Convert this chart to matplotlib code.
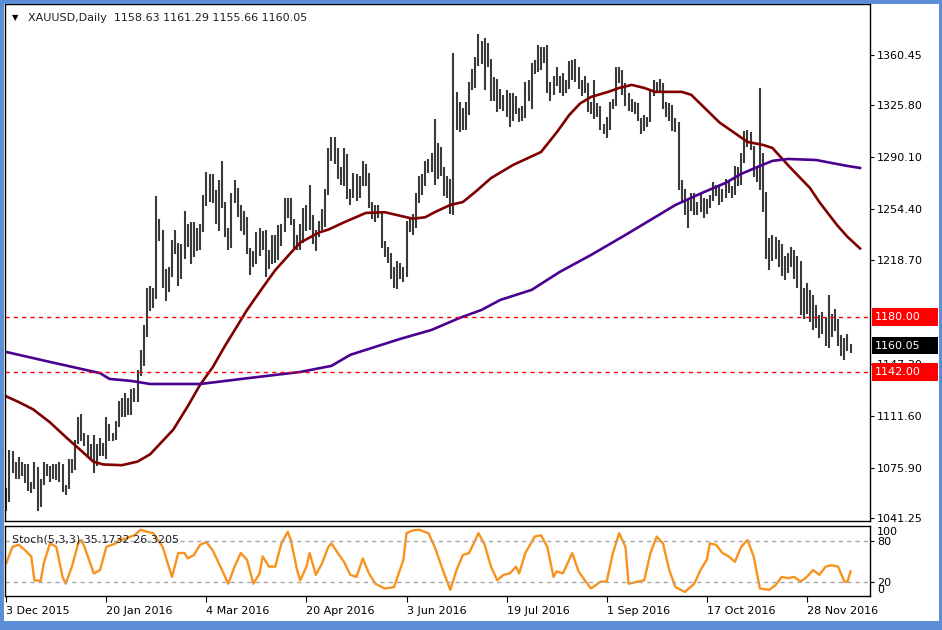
import matplotlib
matplotlib.use("Agg")
import matplotlib.pyplot as plt
from matplotlib.patches import Rectangle
from matplotlib.transforms import blended_transform_factory

# daily XAUUSD bars, 3 Dec 2015 onwards (high / low)
highs = [
    1062, 1088, 1087, 1080, 1083, 1080, 1078, 1078, 1066, 1080,
    1076, 1068, 1080, 1078, 1077, 1078, 1078, 1080, 1078, 1064,
    1082, 1082, 1095, 1111, 1113, 1100, 1098, 1092, 1098, 1092,
    1096, 1093, 1111, 1106, 1100, 1108, 1122, 1124, 1127, 1124,
    1130, 1131, 1143, 1157, 1174, 1200, 1201, 1200, 1263, 1247,
    1240, 1213, 1214, 1233, 1240, 1231, 1230, 1253, 1244, 1245,
    1245, 1241, 1244, 1264, 1280, 1278, 1278, 1267, 1274, 1287,
    1259, 1241, 1265, 1274, 1269, 1257, 1253, 1249, 1227, 1225,
    1238, 1241, 1239, 1240, 1226, 1236, 1236, 1243, 1244, 1262,
    1262, 1262, 1247, 1236, 1244, 1255, 1257, 1271, 1250, 1240,
    1246, 1254, 1268, 1296, 1304, 1304, 1296, 1283, 1296, 1292,
    1268, 1279, 1278, 1277, 1287, 1285, 1279, 1259, 1257, 1257,
    1252, 1232, 1228, 1224, 1214, 1218, 1217, 1214, 1246, 1249,
    1251, 1265, 1277, 1278, 1287, 1289, 1293, 1316, 1300, 1297,
    1283, 1277, 1275, 1362, 1335, 1328, 1324, 1328, 1342, 1351,
    1359, 1375, 1370, 1372, 1369, 1358, 1345, 1344, 1337, 1333,
    1336, 1334, 1334, 1332, 1324, 1325, 1342, 1343, 1355, 1357,
    1367, 1366, 1366, 1367, 1342, 1346, 1352, 1346, 1348, 1343,
    1356, 1357, 1358, 1352, 1343, 1346, 1341, 1328, 1343, 1327,
    1325, 1313, 1318, 1328, 1330, 1352, 1352, 1350, 1341, 1334,
    1330, 1328, 1327, 1317, 1319, 1318, 1336, 1343, 1342, 1344,
    1341, 1328, 1327, 1326, 1317, 1314, 1274, 1268, 1262, 1265,
    1265, 1259, 1265, 1262, 1261, 1264, 1273, 1271, 1270, 1268,
    1275, 1274, 1270, 1284, 1283, 1293, 1308, 1309, 1307, 1298,
    1284, 1338, 1293, 1266, 1234, 1236, 1235, 1233, 1230, 1222,
    1224, 1228, 1226, 1222, 1218, 1200, 1203, 1198, 1195, 1188,
    1181, 1183, 1180, 1195, 1182, 1185, 1178, 1167, 1165, 1168,
    1161,
]
lows = [
    1046, 1052, 1072, 1068, 1068, 1070, 1065, 1060, 1058, 1061,
    1046, 1049, 1064, 1070, 1066, 1068, 1067, 1066, 1059, 1057,
    1061, 1072, 1074, 1092, 1094, 1091, 1083, 1082, 1072, 1077,
    1084, 1084, 1082, 1094, 1094, 1095, 1104, 1111, 1111, 1112,
    1112, 1121, 1121, 1139, 1146, 1166, 1184, 1186, 1192, 1232,
    1200, 1191, 1197, 1207, 1223, 1201, 1206, 1220, 1228, 1216,
    1221, 1225, 1226, 1238, 1256, 1259, 1258, 1244, 1239, 1255,
    1235, 1226, 1227, 1258, 1249, 1239, 1236, 1223, 1209, 1214,
    1216, 1222, 1226, 1207, 1213, 1216, 1217, 1219, 1229, 1238,
    1248, 1243, 1227, 1226, 1226, 1231, 1239, 1240, 1230, 1225,
    1235, 1240, 1242, 1264, 1287, 1285, 1275, 1271, 1270, 1261,
    1257, 1262, 1260, 1262, 1270, 1270, 1255, 1247, 1245, 1248,
    1227, 1221, 1217, 1206, 1200, 1199, 1206, 1204, 1207, 1238,
    1236, 1241, 1258, 1264, 1270, 1279, 1280, 1271, 1275, 1277,
    1263, 1262, 1251, 1250, 1309, 1307, 1309, 1309, 1319, 1336,
    1338, 1353, 1354, 1336, 1352, 1329, 1329, 1321, 1323, 1322,
    1318, 1311, 1315, 1320, 1314, 1315, 1317, 1329, 1323, 1347,
    1349, 1350, 1355, 1334, 1329, 1333, 1339, 1334, 1332, 1334,
    1337, 1343, 1342, 1337, 1332, 1334, 1321, 1320, 1316, 1318,
    1309, 1306, 1303, 1309, 1323, 1325, 1341, 1333, 1325, 1322,
    1321, 1320, 1315, 1306, 1308, 1311, 1314, 1332, 1335, 1334,
    1323, 1318, 1315, 1308, 1307, 1267, 1260, 1250, 1241, 1253,
    1250, 1250, 1252, 1248, 1251, 1255, 1260, 1263, 1257, 1259,
    1262, 1265, 1262, 1264, 1270, 1271, 1286, 1297, 1295, 1276,
    1273, 1267, 1252, 1220, 1212, 1218, 1220, 1214, 1208, 1205,
    1210, 1214, 1206, 1200, 1181, 1178, 1182, 1176, 1171, 1172,
    1165, 1168, 1160, 1158, 1166, 1170, 1160, 1153, 1150, 1156,
    1155,
]

# moving averages (bar index, price)
ma_red_bars = [0, 4.5, 8.6, 14, 19.5, 23.7, 27.8, 31, 37, 42, 46, 53.4, 58, 62, 66, 70, 74,
               77, 82, 86, 91, 94, 100, 103, 108, 115, 121, 125, 130, 134, 137, 142, 146,
               150, 155, 162, 167, 171, 176, 180, 183.5, 187, 192.5, 196, 200, 204, 207.5,
               212, 216, 219, 224, 228, 232, 237, 242, 245, 250.6, 257, 260, 265.7, 269, 273]
ma_red_vals = [1125, 1120.5, 1116, 1107, 1096, 1088, 1080, 1078, 1077.5, 1080, 1085, 1102, 1118,
               1133, 1145, 1160, 1174, 1184.6, 1200, 1212, 1224, 1231, 1238, 1240, 1245, 1251.5,
               1252, 1250, 1247.5, 1248.5, 1252, 1257, 1259, 1266, 1275.5, 1284.5, 1289.5,
               1293.5, 1307, 1319, 1327, 1331.5, 1335, 1337.7, 1339.8, 1337.7, 1335, 1335, 1335,
               1333, 1322.5, 1314, 1308, 1300.5, 1298.4, 1296.3, 1283, 1268.7, 1259, 1243,
               1235, 1227]

ma_purple_bars = [0, 14, 30, 33, 40, 46, 62, 78, 94, 104, 110, 120, 126, 136, 145, 152, 158,
                  168, 177, 187, 198, 214, 222.5, 230, 235, 241, 245, 250, 259, 264, 269, 273]
ma_purple_vals = [1155.6, 1148.7, 1141, 1137, 1135.6, 1133.5, 1133.5, 1137.7, 1141.8, 1146,
                  1153.6, 1160.5, 1164.6, 1170.8, 1179.1, 1184.6, 1191.5, 1198.4, 1210.8,
                  1222.5, 1236.3, 1257, 1265.3, 1272.2, 1278.4, 1283.9, 1287.4, 1288.7, 1288,
                  1285.9, 1283.9, 1282.5]

# Stochastic(5,3,3) main line
stoch_bars = [0, 2, 4, 6, 8, 9, 11, 12, 14, 16, 18, 19, 21, 23, 24, 25, 28, 30, 32, 35, 36, 38,
              41, 43, 45, 47, 50, 53, 55, 57, 58, 60, 62, 64, 66, 69, 71, 73, 75, 77, 79, 81,
              82, 84, 86, 88, 90, 91, 93, 94, 96, 97, 99, 101, 103, 104, 106, 108, 110, 112,
              114, 116, 118, 121, 124, 127, 128, 130, 132, 135, 137, 140, 142, 144, 146, 148,
              150, 151, 153, 155, 157, 159, 161, 163, 164, 166, 169, 171, 173, 175, 176, 178,
              181, 183, 185, 187, 190, 192, 194, 196, 198, 199, 202, 204, 206, 208, 210, 212,
              214, 217, 220, 222, 224, 225, 227, 229, 231, 233, 235, 237, 239, 241, 244, 246,
              248, 250, 252, 254, 256, 258, 260, 262, 264, 266, 268, 269, 270]
stoch_vals = [47, 71, 74, 66, 57, 22, 21, 47, 76, 71, 27, 17, 42, 76, 81, 71, 32, 37, 71, 76, 81,
              83, 88, 96, 93, 91, 71, 27, 62, 62, 54, 59, 74, 78, 66, 37, 17, 42, 62, 52, 17,
              32, 57, 42, 42, 76, 93, 81, 37, 22, 42, 62, 30, 47, 71, 76, 62, 49, 30, 27, 54,
              32, 17, 10, 12, 52, 91, 95, 96, 91, 71, 32, 8, 37, 59, 62, 81, 91, 74, 42, 22,
              30, 32, 42, 32, 62, 86, 88, 71, 27, 35, 32, 62, 35, 22, 10, 20, 20, 62, 91, 71,
              17, 20, 22, 62, 86, 76, 37, 12, 5, 17, 37, 52, 76, 74, 62, 57, 49, 71, 81, 57,
              10, 8, 15, 27, 25, 27, 20, 27, 37, 30, 42, 44, 42, 20, 20, 35]

date_ticks = [0, 32, 64, 96, 128, 160, 192, 224, 256]
date_labels = ["3 Dec 2015", "20 Jan 2016", "4 Mar 2016", "20 Apr 2016", "3 Jun 2016",
               "19 Jul 2016", "1 Sep 2016", "17 Oct 2016", "28 Nov 2016"]
# 1183.00 sits fully under the 1180.00 box, so it is left out
price_ticks = [1041.25, 1075.90, 1111.60, 1147.30, 1218.70, 1254.40, 1290.10,
               1325.80, 1360.45]
price_labels = ["%.2f" % p for p in price_ticks]
levels = [1180.00, 1142.00]
last_price = 1160.05

W, H = 942, 630
fig = plt.figure(figsize=(W / 100, H / 100), dpi=100)
fig.patch.set_facecolor("white")


def box(x0, y0, x1, y1):
    return [x0 / W, 1 - y1 / H, (x1 - x0) / W, (y1 - y0) / H]


ax = fig.add_axes(box(5, 4, 870, 521))
ax2 = fig.add_axes(box(5, 526, 870, 596))

bar_idx = list(range(len(highs)))
ax.vlines(bar_idx, lows, highs, color="#3a3a3a", lw=1.5)
ax.plot(ma_red_bars, ma_red_vals, color="#800000", lw=1.9)
ax.plot(ma_purple_bars, ma_purple_vals, color="#4B0090", lw=1.9)
for lv in levels:
    ax.axhline(lv, color="#FF0000", lw=1, ls=(0, (3, 3)))

ax.set_xlim(-0.4, 276.2)
ax.set_ylim(1039, 1395.6)
ax.set_xticks([])
ax.yaxis.tick_right()
ax.set_yticks(price_ticks)
ax.set_yticklabels(price_labels, fontsize=8)
ax.tick_params(axis="y", length=3, pad=2, color="black")

ax.text(0.008, 0.973, "\u25bc", transform=ax.transAxes, fontsize=6, va="center")
ax.text(0.027, 0.973, "XAUUSD,Daily  1158.63 1161.29 1155.66 1160.05",
        transform=ax.transAxes, fontsize=8, va="center", color="#202020")

# price boxes on the right scale
trans = blended_transform_factory(fig.transFigure, ax.transData)
for val, col in [(levels[0], "#FF0000"), (last_price, "black"), (levels[1], "#FF0000")]:
    ax.add_patch(Rectangle((872 / W, val - 6.2), 66 / W, 12.4, transform=trans,
                           facecolor=col, edgecolor="none", clip_on=False, zorder=5))
    ax.text(875 / W, val, "%.2f" % val, transform=trans, color="white", fontsize=8,
            va="center", ha="left", zorder=6, clip_on=False)

# stochastic panel
ax2.plot(stoch_bars, stoch_vals, color="#F7931E", lw=1.7)
for lv in [80, 20]:
    ax2.axhline(lv, color="#A8A8A8", lw=1, ls=(0, (3, 3)))
ax2.set_xlim(-0.4, 276.2)
ax2.set_ylim(-1, 101.5)
ax2.yaxis.tick_right()
ax2.set_yticks([20, 80])
ax2.set_yticklabels(["20", "80"], fontsize=8)
ax2.tick_params(axis="y", length=3, pad=2)
ax2.text(1.008, 100, "100", transform=blended_transform_factory(ax2.transAxes, ax2.transData),
         fontsize=8, va="top", ha="left")
ax2.text(1.008, 0, "0", transform=blended_transform_factory(ax2.transAxes, ax2.transData),
         fontsize=8, va="bottom", ha="left")
ax2.set_xticks(date_ticks)
ax2.set_xticklabels(date_labels, fontsize=8)
for lbl in ax2.get_xticklabels():
    lbl.set_ha("left")
ax2.tick_params(axis="x", length=4, pad=3)
ax2.text(0.008, 0.8, "Stoch(5,3,3) 35.1732 26.3205", transform=ax2.transAxes,
         fontsize=8, va="center", color="#202020")

for a in (ax, ax2):
    for s in a.spines.values():
        s.set_color("black")
        s.set_linewidth(1)

# blue frame of the screenshot
fig.add_artist(Rectangle((0, 0), 1, 1, transform=fig.transFigure, fill=False,
                         edgecolor="#5B8ED6", lw=5))
fig.add_artist(Rectangle((0, 0), 1, 9 / H, transform=fig.transFigure,
                         facecolor="#5B8ED6", edgecolor="none"))

fig.savefig("out.png", dpi=100)
